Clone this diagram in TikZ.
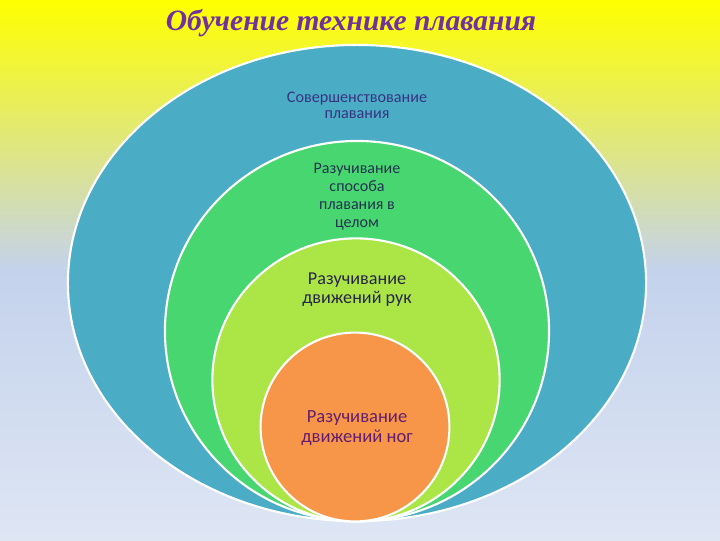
\documentclass[tikz,border=0pt]{standalone}
\usepackage{fontspec}
\setmainfont{Carlito}
\newfontfamily\titlefont{Liberation Serif}
\usetikzlibrary{shapes.geometric, positioning}

\definecolor{seablue}{RGB}{75,172,198}
\definecolor{poolgreen}{RGB}{72,214,112}
\definecolor{limegreen}{RGB}{172,230,70}
\definecolor{warmorange}{RGB}{247,150,72}
\definecolor{titlepurple}{RGB}{112,48,160}
\definecolor{inkblue}{RGB}{56,52,130}
\definecolor{inknavy}{RGB}{34,52,80}
\definecolor{inkdark}{RGB}{40,36,70}
\definecolor{inkplum}{RGB}{100,30,110}
\definecolor{skymid}{RGB}{196,210,236}
\definecolor{skylow}{RGB}{222,230,244}

\tikzset{
  ring/.style={ellipse, draw=white, line width=1.5pt, inner sep=0pt},
  stage/.style={align=center, inner sep=0pt}
}

\begin{document}
\begin{tikzpicture}[x=0.025cm, y=-0.025cm]
    % background
    \shade[top color=yellow, bottom color=skymid] (0,0) rectangle (720,270);
    \shade[top color=skymid, bottom color=skylow] (0,270) rectangle (720,540);
    \useasboundingbox (0,0) rectangle (720,540);

    \node[ring, fill=seablue, minimum width=14.45cm, minimum height=11.9cm] (perfect) at (357,283) {};
    \node[ring, fill=poolgreen, minimum width=9.6cm, minimum height=9.5cm] (whole) at (357,331) {};
    \node[ring, fill=limegreen, minimum width=7.18cm, minimum height=7.08cm] (arms) at (356,380) {};
    \node[ring, fill=warmorange, minimum width=4.72cm, minimum height=4.72cm] (legs) at (355,427) {};

    \node[stage, text=inkblue, font=\fontsize{11.5}{11.5}\selectfont] (perfect-text) at (357,105) {Совершенствование\\плавания};
    \node[stage, text=inknavy, font=\fontsize{11.4}{12.8}\selectfont] (whole-text) at (357,197) {Разучивание\\способа\\плавания в\\целом};
    \node[stage, text=inkdark, font=\fontsize{12.9}{13.5}\selectfont] (arms-text) at (357,290) {Разучивание\\движений рук};
    \node[stage, text=inkplum, font=\fontsize{13.2}{14.2}\selectfont] (legs-text) at (357,428) {Разучивание\\движений ног};

    \node[text=titlepurple, font=\titlefont\itshape\bfseries\fontsize{21}{24}\selectfont] (title) at (351,23) {Обучение технике плавания};
\end{tikzpicture}
\end{document}
